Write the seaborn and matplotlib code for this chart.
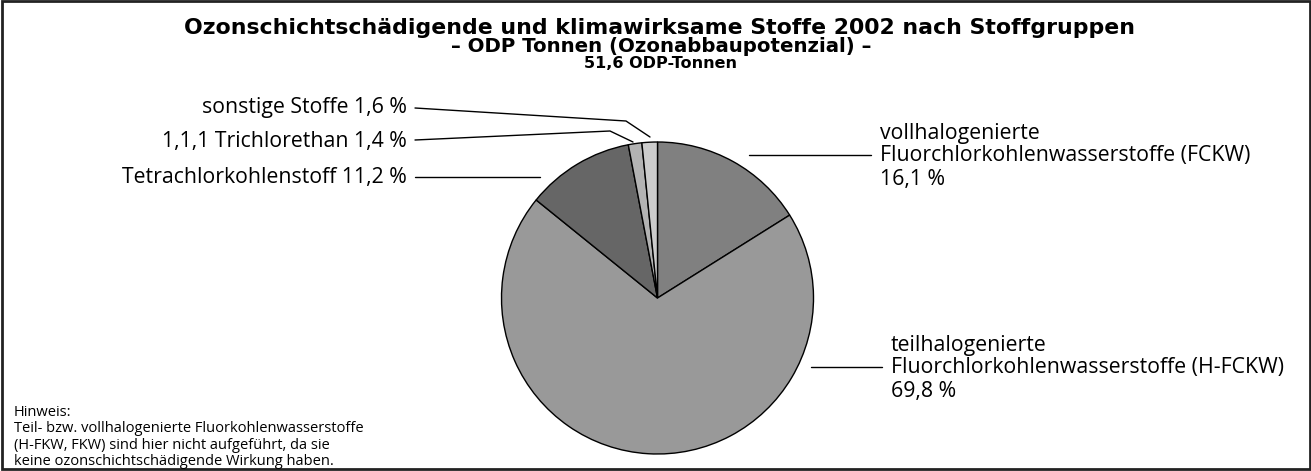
import matplotlib.pyplot as plt
import seaborn as sns
from matplotlib.patches import Rectangle

sns.set_theme(style="white")
plt.rcParams['font.family'] = ['Open Sans', 'DejaVu Sans']
plt.rcParams['text.color'] = 'black'

W, H = 1311, 471

# data
groups = ["vollhalogenierte\nFluorchlorkohlenwasserstoffe (FCKW)",
          "teilhalogenierte\nFluorchlorkohlenwasserstoffe (H-FCKW)",
          "Tetrachlorkohlenstoff",
          "1,1,1 Trichlorethan",
          "sonstige Stoffe"]
shares = [16.1, 69.8, 11.2, 1.4, 1.6]
grays = ["#808080", "#999999", "#666666", "#b3b3b3", "#cccccc"]
total = "51,6 ODP-Tonnen"


def pct(v):
    return f"{v:.1f}".replace(".", ",") + " %"


def P(x, y):
    # pixel position (origin top left) -> data coords
    return (x, H - y)


fig = plt.figure(figsize=(W / 100, H / 100), dpi=100)
ax = fig.add_axes([0, 0, 1, 1])

ax.pie(shares, colors=grays, startangle=90, counterclock=False,
       center=P(657.5, 298), radius=156,
       wedgeprops=dict(edgecolor="black", linewidth=1))
ax.set_xlim(0, W)
ax.set_ylim(0, H)
ax.axis("off")

fs = 15.3
line_kw = dict(color="black", lw=1)

# left side labels
left = [(4, 108, [(415, 108), (626, 121), (650, 137)]),
        (3, 141, [(415, 140), (610, 131), (633, 142)]),
        (2, 177, [(415, 177), (540, 177)])]
for i, ty, pts in left:
    ax.text(*P(407, ty), f"{groups[i]} {pct(shares[i])}", ha="right", va="center", fontsize=fs)
    xs, ys = zip(*[P(x, y) for x, y in pts])
    ax.plot(xs, ys, **line_kw)

# right side labels, line by line
right = [(0, 880, [134, 156, 179], [(749, 155), (871, 155)]),
         (1, 891, [345, 367, 392], [(811, 367), (882, 367)])]
for i, tx, ys_txt, pts in right:
    rows = groups[i].split("\n") + [pct(shares[i])]
    for row, ty in zip(rows, ys_txt):
        ax.text(*P(tx, ty), row, ha="left", va="center", fontsize=fs)
    xs, ys = zip(*[P(x, y) for x, y in pts])
    ax.plot(xs, ys, **line_kw)

# title
tkw = dict(ha="center", va="center", fontweight="bold", family="DejaVu Sans")
ax.text(*P(660, 28), "Ozonschichtschädigende und klimawirksame Stoffe 2002 nach Stoffgruppen",
        fontsize=15.8, **tkw)
ax.text(*P(661, 46), "– ODP Tonnen (Ozonabbaupotenzial) –", fontsize=14.2, **tkw)
ax.text(*P(660, 63), total, fontsize=11.5, **tkw)

# note
ax.text(*P(14, 437), "Hinweis:\nTeil- bzw. vollhalogenierte Fluorkohlenwasserstoffe\n"
        "(H-FKW, FKW) sind hier nicht aufgeführt, da sie\n"
        "keine ozonschichtschädigende Wirkung haben.",
        ha="left", va="center", fontsize=10.5, linespacing=1.15)

# frame
ax.add_patch(Rectangle(P(1.5, 468.5), W - 3, H - 3, fill=False, edgecolor="#222222", lw=2))

fig.savefig("out.png", dpi=100)
